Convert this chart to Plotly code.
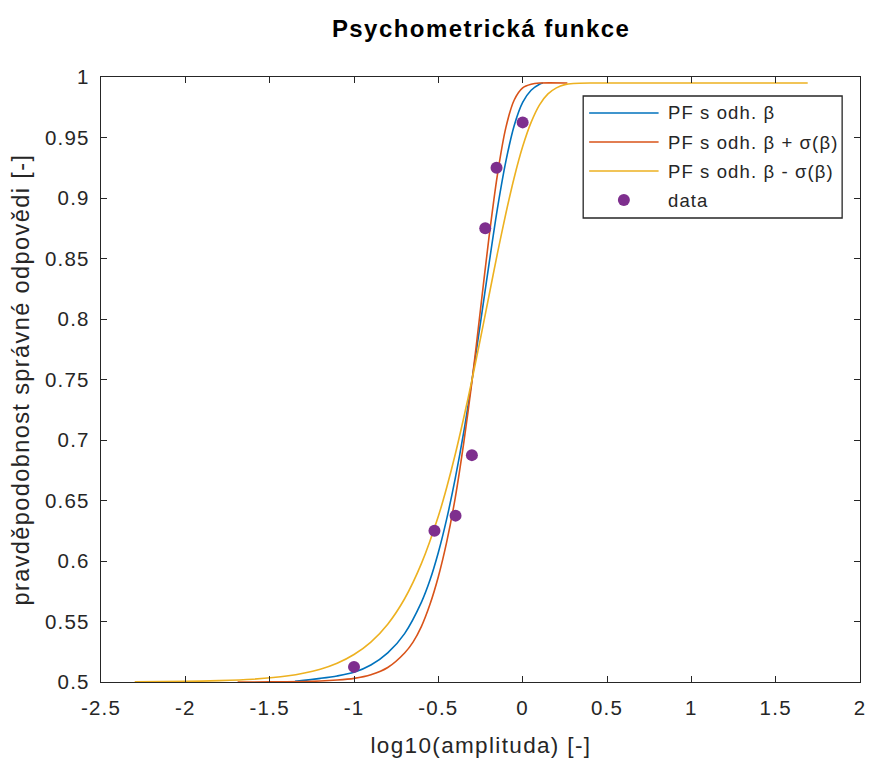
import numpy as np
import plotly.graph_objects as go

# ---- measured responses -------------------------------------------------
amplitudes = [0.1, 0.3, 0.4, 0.5, 0.6, 0.7, 1.0]
p_correct = [0.5125, 0.625, 0.6375, 0.6875, 0.875, 0.925, 0.9625]

# ---- fitted psychometric functions (log10 amplitude vs. p) --------------
pf_x = [-1.35, -1.2, -1.1, -1.0, -0.9, -0.8, -0.7, -0.6, -0.55, -0.5, -0.45,
        -0.4, -0.35, -0.3, -0.25, -0.2, -0.15, -0.1, -0.05, 0.0, 0.05, 0.1, 0.12]
pf_y = [0.5005, 0.503, 0.505, 0.508, 0.514, 0.524, 0.540, 0.566, 0.584, 0.607,
        0.635, 0.668, 0.706, 0.750, 0.797, 0.845, 0.891, 0.930, 0.960, 0.979,
        0.989, 0.994, 0.995]

pf_plus_x = [-1.69, -1.5, -1.3, -1.2, -1.1, -1.0, -0.9, -0.8, -0.7, -0.65, -0.6,
             -0.55, -0.5, -0.45, -0.4, -0.35, -0.3, -0.25, -0.2, -0.15, -0.1,
             -0.05, 0.0, 0.05, 0.1, 0.265]
pf_plus_y = [0.5, 0.5001, 0.5004, 0.5008, 0.5016, 0.503, 0.506, 0.512, 0.524,
             0.533, 0.546, 0.564, 0.587, 0.616, 0.652, 0.697, 0.749, 0.808,
             0.867, 0.919, 0.958, 0.981, 0.991, 0.994, 0.995, 0.995]

pf_minus_x = [-2.3, -2.0, -1.8, -1.6, -1.4, -1.2, -1.1, -1.0, -0.9, -0.8, -0.7,
              -0.6, -0.5, -0.45, -0.4, -0.35, -0.3, -0.25, -0.2, -0.15, -0.1,
              -0.05, 0.0, 0.05, 0.1, 0.15, 0.2, 0.25, 0.3, 0.4, 1.69]
pf_minus_y = [0.5002, 0.5005, 0.5011, 0.5023, 0.5049, 0.5106, 0.5155, 0.5227,
              0.533, 0.5478, 0.5688, 0.598, 0.637, 0.661, 0.688, 0.718, 0.750,
              0.784, 0.819, 0.854, 0.887, 0.917, 0.9425, 0.9625, 0.977, 0.986,
              0.991, 0.9937, 0.9946, 0.995, 0.995]

# ---- axis ticks ----------------------------------------------------------
x_ticks = [-2.5, -2, -1.5, -1, -0.5, 0, 0.5, 1, 1.5, 2]
x_tick_labels = ["-2.5", "-2", "-1.5", "-1", "-0.5", "0", "0.5", "1", "1.5", "2"]
y_ticks = [0.5, 0.55, 0.6, 0.65, 0.7, 0.75, 0.8, 0.85, 0.9, 0.95, 1.0]
y_tick_labels = ["0.5", "0.55", "0.6", "0.65", "0.7", "0.75", "0.8", "0.85",
                 "0.9", "0.95", "1"]

series_names = ["PF s odh. β", "PF s odh. β + σ(β)", "PF s odh. β - σ(β)", "data"]

# ---- style ---------------------------------------------------------------
C_BLUE = "#0072BD"
C_RED = "#D95319"
C_YELLOW = "#EDB120"
C_PURPLE = "#7E2F8E"
C_AXIS = "#262626"
FONT = "Liberation Sans, Arial, sans-serif"

W, H = 873, 758
L, R, T, B = 101, 866, 77, 682  # plot-area edges in pixels


def px(xp):
    return (xp - L) / (R - L)


def py(yp):
    return (B - yp) / (B - T)


fig = go.Figure()

line_style = dict(width=1.6, shape="spline", smoothing=0.8)
fig.add_trace(go.Scatter(x=pf_x, y=pf_y, mode="lines", name=series_names[0],
                         line=dict(color=C_BLUE, **line_style), showlegend=False))
fig.add_trace(go.Scatter(x=pf_plus_x, y=pf_plus_y, mode="lines", name=series_names[1],
                         line=dict(color=C_RED, **line_style), showlegend=False))
fig.add_trace(go.Scatter(x=pf_minus_x, y=pf_minus_y, mode="lines", name=series_names[2],
                         line=dict(color=C_YELLOW, **line_style), showlegend=False))
fig.add_trace(go.Scatter(x=np.log10(amplitudes), y=p_correct, mode="markers",
                         name=series_names[3],
                         marker=dict(symbol="circle", size=12, color=C_PURPLE,
                                     line=dict(width=0)),
                         showlegend=False))

axis_common = dict(
    showgrid=False, zeroline=False, showline=True, linecolor=C_AXIS, linewidth=1.3,
    mirror="ticks", ticks="inside", ticklen=6, tickwidth=1.3, tickcolor=C_AXIS,
    tickfont=dict(family=FONT, size=20.5, color=C_AXIS),
)
fig.update_xaxes(range=[-2.5, 2], tickmode="array", tickvals=x_ticks,
                 ticktext=x_tick_labels, ticklabelstandoff=7, **axis_common)
fig.update_yaxes(range=[0.5, 1], tickmode="array", tickvals=y_ticks,
                 ticktext=y_tick_labels, ticklabelstandoff=6, **axis_common)

# ---- legend box ----------------------------------------------------------
shapes = [dict(type="rect", xref="paper", yref="paper",
               x0=px(587), x1=px(848), y0=py(218), y1=py(96),
               line=dict(color=C_AXIS, width=1.3), fillcolor="white", layer="above")]
rows = [113, 142, 171, 200]
colors = [C_BLUE, C_RED, C_YELLOW]
annotations = []
for i, name in enumerate(series_names):
    if i < 3:
        shapes.append(dict(type="line", xref="paper", yref="paper",
                           x0=px(593), x1=px(663), y0=py(rows[i]), y1=py(rows[i]),
                           line=dict(color=colors[i], width=1.6), layer="above"))
    else:
        shapes.append(dict(type="circle", xref="paper", yref="paper",
                           xsizemode="pixel", ysizemode="pixel",
                           xanchor=px(628), yanchor=py(rows[i]),
                           x0=-6, x1=6, y0=-6, y1=6,
                           line=dict(width=0), fillcolor=C_PURPLE, layer="above"))
    annotations.append(dict(xref="paper", yref="paper", x=px(670), y=py(rows[i]),
                            xanchor="left", yanchor="middle", align="left",
                            showarrow=False, text=name,
                            font=dict(family=FONT, size=18.5, color=C_AXIS)))

# ---- titles --------------------------------------------------------------
annotations.append(dict(xref="paper", yref="paper", x=0.5, y=py(28),
                        xanchor="center", yanchor="middle", showarrow=False,
                        text="<b>Psychometrická funkce</b>",
                        font=dict(family=FONT, size=24, color="black")))
annotations.append(dict(xref="paper", yref="paper", x=0.5, y=py(745),
                        xanchor="center", yanchor="middle", showarrow=False,
                        text="log10(amplituda) [-]",
                        font=dict(family=FONT, size=22.5, color=C_AXIS)))
annotations.append(dict(xref="paper", yref="paper", x=px(20), y=0.5,
                        xanchor="center", yanchor="middle", showarrow=False,
                        textangle=-90,
                        text="pravděpodobnost správné odpovědi [-]",
                        font=dict(family=FONT, size=23.5, color=C_AXIS)))

fig.update_layout(
    width=W, height=H, autosize=False,
    margin=dict(l=L, r=W - R, t=T, b=H - B, pad=0),
    paper_bgcolor="white", plot_bgcolor="white",
    shapes=shapes, annotations=annotations, showlegend=False,
)

# slightly wider glyph spacing for all chart text
spacing_css = (
    "var s=document.createElement('style');"
    "s.textContent='.main-svg text{letter-spacing:0.06em;}';"
    "document.head.appendChild(s);"
)
fig.write_html("out.html", post_script=spacing_css)
